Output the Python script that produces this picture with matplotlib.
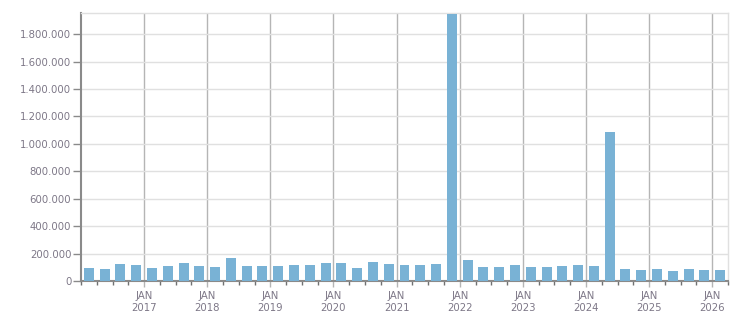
import matplotlib.pyplot as plt
from matplotlib.ticker import FuncFormatter, MultipleLocator
import numpy as np

# quarterly values, Q1 2016 .. Q1 2026 (thousands)
quarters = [f"{y} Q{q}" for y in range(2016, 2027) for q in range(1, 5)][:41]
values = [93, 86, 125, 117,
          93, 109, 132, 109,
          101, 171, 109, 109,
          109, 117, 117, 132,
          131, 92, 138, 123,
          115, 115, 125, 1950,
          156, 101, 101, 117,
          101, 101, 109, 117,
          109, 1090, 86, 78,
          86, 70, 86, 78,
          78]
years = list(range(2017, 2027))
year_labels = [f"JAN\n{y}" for y in years]

values = np.array(values) * 1000
xpos = 2016 + (np.arange(len(values)) + 0.5) * 0.25

fig = plt.figure(figsize=(7.51, 3.13), dpi=100)
ax = fig.add_axes([81 / 751, 1 - 281 / 313, 647 / 751, 268 / 313])

txt = '#7d7787'

ax.bar(xpos, values, width=0.158, color='#79b2d5', zorder=3)

ax.set_xlim(2016, 2026.25)
ax.set_ylim(0, 1955000)

ax.set_yticks(np.arange(0, 1800001, 200000))
ax.yaxis.set_major_formatter(FuncFormatter(lambda v, p: f"{int(v):,}".replace(",", ".")))
ax.set_xticks(years)
ax.set_xticklabels(year_labels, linespacing=1.25)
ax.xaxis.set_minor_locator(MultipleLocator(0.25))

ax.grid(axis='y', color='#e0e0e0', linewidth=1, zorder=0)
ax.grid(axis='x', which='major', color='#b5b5b5', linewidth=1, zorder=1)

ax.tick_params(axis='y', length=6, width=1, color='#8a8a8a', pad=1, labelsize=7.3, labelcolor=txt)
ax.tick_params(axis='x', which='major', length=4, width=1, color='#b5b5b5', pad=3, labelsize=7.3, labelcolor=txt)
ax.tick_params(axis='x', which='minor', length=3, width=1, color='#707070')

for s in ['left', 'bottom']:
    ax.spines[s].set_color('#8a8a8a')
    ax.spines[s].set_linewidth(1.5)
for s in ['top', 'right']:
    ax.spines[s].set_color('#e0e0e0')
    ax.spines[s].set_linewidth(1)

fig.savefig('out.png', dpi=100)
